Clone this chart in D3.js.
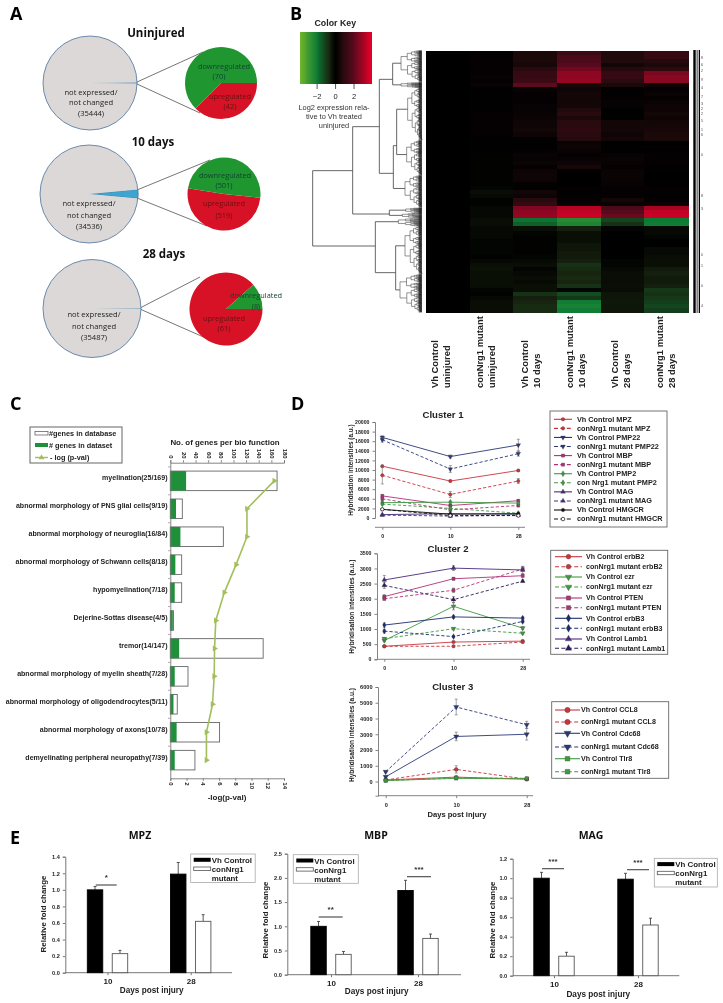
<!DOCTYPE html>
<html><head><meta charset="utf-8">
<script src="https://cdn.jsdelivr.net/npm/d3@7/dist/d3.min.js"></script>
<style>html,body{margin:0;padding:0;background:#fff}svg{display:block;filter:blur(0.35px)}</style>
</head><body><svg id="c" width="723" height="1003"></svg>
<script>
// ---------- DATA ----------
const pieTitles=["Uninjured","10 days","28 days"];
const notChanged=[35444,34536,35487];
const downReg=[70,501,8];
const upReg=[42,519,61];

const heatColumns=["Vh Control|uninjured","conNrg1 mutant|uninjured","Vh Control|10 days","conNrg1 mutant|10 days","Vh Control|28 days","conNrg1 mutant|28 days"];
const heatCol0=[0,0,0,0,0,0,0,0,0,0,0,0,0,0,0,0,0,0,0,0,0,0,0,0,0,0,0,0,0,0,0,0,0,0,0,0,0,0,0,0,0,0,0,0,0,0,0,0,0,0,0,0,0,0,0,0,0,0,0,0,0,0,0,0];
const heatCol1=[.1,.1,.1,.1,.1,.1,.15,.1,.15,.05,.05,.05,.05,.05,.05,.1,.1,.1,.1,.1,.1,.05,.05,.05,.05,-.05,-.05,-.05,-.05,-.05,-.05,-.05,-.05,-.1,-.25,-.2,-.05,-.05,-.15,-.15,-.15,-.25,-.25,-.15,-.2,-.15,-.1,-.1,-.1,-.1,-.05,-.15,-.3,-.35,-.3,-.3,-.3,-.25,-.1,-.05,-.2,-.25,-.25,-.25];
const heatCol2=[.6,.6,.6,.5,.9,1.2,1.2,1.3,2.0,.15,.1,.1,.1,.15,.15,.2,.25,.35,.35,.4,.3,.05,.05,.05,.1,.2,.15,.25,.1,.3,.35,.3,.1,.05,.4,.3,.9,1.1,2.5,2.7,2.8,-1.9,-1.6,-.3,-.1,-.05,-.05,-.05,-.05,-.05,-.1,-.2,-.25,-.1,-.2,-.25,-.2,-.3,-.3,-.9,-.6,-.7,-.8,-.8];
const heatCol3=[1.3,1.6,1.7,1.9,2.3,2.7,2.7,2.8,.5,.35,.4,.4,.4,.4,.7,.9,.6,.9,.9,1,.9,.8,.2,.3,.2,.1,.15,.3,.5,.05,0,0,0,.1,.05,.1,.1,.15,3.2,3.4,3.5,-2.5,-2.3,-.6,-.3,-.3,-.3,-.4,-.4,-.5,-.5,-.6,-.9,-.8,-.7,-.8,-.7,-.9,-.1,-1.3,-1.0,-2.1,-2.2,-2.1];
const heatCol4=[.7,.7,.7,.4,.8,1.2,1.2,.9,.6,.05,.05,.1,.15,.15,.05,.05,.05,.4,.4,.4,.35,.4,0,.05,.05,.15,.2,.15,.1,.2,.25,.2,.15,.1,.1,.1,.4,.2,1.6,1.9,2.2,-1.2,-.9,-.1,0,0,0,0,0,0,0,-.1,-.1,-.2,-.25,-.25,-.25,-.3,-.25,-.4,-.4,-.45,-.4,-.4];
const heatCol5=[1.2,1.2,.8,.6,1.0,2.4,2.6,2.6,.3,.1,.2,.1,.2,.3,.3,.4,.3,.4,.45,.5,.6,.6,0,.1,.05,.1,.1,.1,.05,.05,0,0,.05,.1,.1,.05,.1,.2,3.0,3.4,3.5,-2.0,-2.1,-.2,-.15,-.1,0,0,-.2,-.2,-.25,-.3,-.3,-.5,-.6,-.5,-.5,-.6,-1.0,-.9,-1,-1.1,-1.2,-1.1];
const heatRowDigits=["8","6","2","9","4","7","3","2","2","5","1","6","0","8","3","0","1","0","4"];
const heatKeyTicks=[-2,0,2];

const bioFunctions=["myelination(25/169)","abnormal morphology of PNS glial cells(9/19)","abnormal morphology of neuroglia(16/84)","abnormal morphology of Schwann cells(8/18)","hypomyelination(7/18)","Dejerine-Sottas disease(4/5)","tremor(14/147)","abnormal morphology of myelin sheath(7/28)","abnormal morphology of oligodendrocytes(5/11)","abnormal morphology of axons(10/78)","demyelinating peripheral neuropathy(7/39)"];
const genesInDataset=[25,9,16,8,7,4,14,7,5,10,7];
const genesInDatabase=[169,19,84,18,18,5,147,28,11,78,39];
const logP=[12.8,9.44,9.44,8.1,6.65,5.6,5.45,5.4,5.2,4.45,4.45];

const days=["0","10","28"];
const cluster1Names=["Vh Control MPZ","conNrg1 mutant MPZ","Vh Control PMP22","conNrg1 mutant PMP22","Vh Control MBP","conNrg1 mutant MBP","Vh Control PMP2","con Nrg1 mutant PMP2","Vh Control MAG","conNrg1 mutant MAG","Vh Control HMGCR","conNrg1 mutant HMGCR"];
const cluster1Values=[[10800,7700,9900],[8900,4900,7700],[16800,12800,15200],[16300,10200,13400],[4600,2600,3600],[4000,1700,2600],[3200,3300,3100],[2900,2000,1000],[700,900,800],[600,400,600],[1800,800,900],[1800,500,500]];
const cluster1Errors=[[200,200,200],[1800,600,500],[300,300,1200],[500,700,500],[300,200,200],[300,300,300],[200,200,200],[200,200,200],[100,100,100],[100,100,100],[100,100,100],[100,100,100]];
const cluster2Names=["Vh Control erbB2","conNrg1 mutant erbB2","Vh Control ezr","conNrg1 mutant ezr","Vh Control PTEN","conNrg1 mutant PTEN","Vh Control erbB3","conNrg1 mutant erbB3","Vh Control Lamb1","conNrg1 mutant Lamb1"];
const cluster2Values=[[430,570,600],[430,430,570],[620,1750,1030],[680,1010,860],[2070,2660,2760],[2000,2280,2980],[1130,1400,1360],[930,750,1250],[2620,3010,2950],[2440,1970,2580]];
const cluster2Errors=[[20,20,30],[20,20,30],[40,120,50],[40,30,30],[60,40,50],[50,70,80],[70,50,40],[60,30,30],[150,80,120],[100,100,40]];
const cluster3Names=["Vh Control CCL8","conNrg1 mutant CCL8","Vh Control Cdc68","conNrg1 mutant Cdc68","Vh Control Tlr8","conNrg1 mutant Tlr8"];
const cluster3Values=[[100,280,150],[100,770,150],[300,2860,3000],[620,4730,3600],[60,200,170],[60,230,200]];
const cluster3Errors=[[20,40,30],[30,230,30],[50,270,370],[50,500,220],[20,30,30],[20,30,30]];

const qpcrDays=["10","28"];
const qpcrGroups=["Vh Control","conNrg1 mutant"];
const mpzMeans=[[1.0,1.19],[0.23,0.62]], mpzErr=[[.04,.14],[.04,.08]];
const mbpMeans=[[1.0,1.74],[0.42,0.75]], mbpErr=[[.10,.21],[.06,.09]];
const magMeans=[[1.0,0.99],[0.20,0.52]], magErr=[[.06,.06],[.04,.07]];

// ---------- HELPERS ----------
const svg=d3.select("#c");
const ARIAL="'Liberation Sans',Arial,sans-serif", OPEN="'Open Sans',sans-serif";
function T(g,x,y,s,o={}){
  const t=g.append("text").attr("x",x).attr("y",y).text(s)
    .attr("font-family",o.f||ARIAL).attr("font-size",o.s||8).attr("font-weight",o.w||"normal")
    .attr("text-anchor",o.a||"start").attr("fill",o.c||"#111");
  if(o.r!==undefined)t.attr("transform",`rotate(${o.r} ${x} ${y})`);
  return t;
}
function L(g,x1,y1,x2,y2,c,w,d){const l=g.append("line").attr("x1",x1).attr("y1",y1).attr("x2",x2).attr("y2",y2).attr("stroke",c||"#555").attr("stroke-width",w||1);if(d)l.attr("stroke-dasharray",d);return l;}
function styleAxis(sel,o={}){
  sel.selectAll("path,line").attr("stroke",o.c||"#777").attr("stroke-width",o.sw||.9);
  sel.selectAll("text").attr("font-family",ARIAL).attr("font-weight","bold").attr("font-size",o.s||5.5).attr("fill","#222");
}
[["A",10,20],["B",290,20],["C",10,410],["D",291,410],["E",10,844]].forEach(d=>T(svg,d[1],d[2],d[0],{f:OPEN,s:18,w:700,c:"#000"}));

// ---------- PANEL A ----------
const GREEN="#1f962f",RED="#d81226";
const pieLayout=[
 {big:[90,83,47],small:[221,83,36],title:[156,37],txt:[91,[94.5,105,115.7]],l:[[203,52],[200,113]],dl:[[224,68.5],[219,79],[230,99],[230,109]],rot:0},
 {big:[89,194,49],small:[224,194,36.5],title:[153,146],txt:[89,[206,218,229]],l:[[210,160],[207,226]],dl:[[225,178],[224,188],[224,206],[224,218]],rot:6},
 {big:[92,308.5,49],small:[226,309,36.5],title:[164,258],txt:[94,[317,328.5,340]],l:[[200,277],[208,339]],dl:[[256,298],[256,309],[224,321],[224,331]],rot:0}];
const gA=svg.append("g");
pieLayout.forEach((p,i)=>{
  T(gA,p.title[0],p.title[1],pieTitles[i],{f:OPEN,s:11.5,w:700,a:"middle",c:"#111"});
  const [bx,by,br]=p.big,[sx,sy,sr]=p.small;
  const changed=downReg[i]+upReg[i];
  const frac=changed/(changed+notChanged[i]);
  const half=frac*Math.PI;
  const bigPie=d3.pie().sort(null).startAngle(Math.PI/2-half).endAngle(Math.PI/2-half+2*Math.PI)([changed,notChanged[i]]);
  const arcB=d3.arc().innerRadius(0).outerRadius(br);
  const gb=gA.append("g").attr("transform",`translate(${bx},${by})`);
  gb.selectAll("path").data(bigPie).join("path").attr("d",arcB)
    .attr("fill",(d,j)=>j?"#dcd8d8":"#3fa5d0").attr("stroke",(d,j)=>j?"none":"#3a7fa8").attr("stroke-width",.7);
  gb.append("circle").attr("r",br).attr("fill","none").attr("stroke","#5f7fa3").attr("stroke-width",.9);
  const ex=bx+br, dy=Math.max(br*Math.sin(half),1);
  L(gA,ex,by-dy,p.l[0][0],p.l[0][1],"#666",.9);
  L(gA,ex,by+dy,p.l[1][0],p.l[1][1],"#666",.9);
  const start=Math.PI/2+p.rot*Math.PI/180;
  const smallPie=d3.pie().sort(null).startAngle(start).endAngle(start+2*Math.PI)([upReg[i],downReg[i]]);
  gA.append("g").attr("transform",`translate(${sx},${sy})`).selectAll("path").data(smallPie).join("path")
    .attr("d",d3.arc().innerRadius(0).outerRadius(sr)).attr("fill",(d,j)=>j?GREEN:RED);
  const o={f:OPEN,s:7.4,a:"middle",c:"#222"};
  T(gA,p.txt[0],p.txt[1][0],"not expressed/",{...o,s:7.6});
  T(gA,p.txt[0],p.txt[1][1],"not changed",{...o,s:7.6});
  T(gA,p.txt[0],p.txt[1][2],`(${notChanged[i]})`,{...o,s:7.6});
  T(gA,p.dl[0][0],p.dl[0][1],"downregulated",{...o,c:"#143"});
  T(gA,p.dl[1][0],p.dl[1][1],`(${downReg[i]})`,{...o,c:"#143"});
  T(gA,p.dl[2][0],p.dl[2][1],"upregulated",{...o,c:"#611"});
  T(gA,p.dl[3][0],p.dl[3][1],`(${upReg[i]})`,{...o,c:"#611"});
});

// ---------- PANEL B ----------
const gB=svg.append("g");
const heatColor=d3.scaleLinear().domain([-3.8,-2,-.7,0,.7,2,3.9]).range(["#6db52a","#0c7a35","#18240f","#000000","#200a0c","#5c0a1e","#e60028"]);
const heatData=[heatCol0,heatCol1,heatCol2,heatCol3,heatCol4,heatCol5];
const hx=d3.scaleBand().domain(d3.range(6)).range([426,688]);
const hy=d3.scaleBand().domain(d3.range(heatCol0.length)).range([50.7,312.3]);
heatData.forEach((col,c)=>{
  gB.append("g").selectAll("rect").data(col).join("rect")
   .attr("x",hx(c)).attr("width",hx.bandwidth()+.5)
   .attr("y",(d,i)=>hy(i)).attr("height",hy.bandwidth()+.3)
   .attr("fill",d=>heatColor(d)).attr("shape-rendering","crispEdges");
});
heatColumns.forEach((s,i)=>{
  const [a,b]=s.split("|");
  T(gB,438.3+i*45,388,a,{s:9.4,w:"bold",r:-90,c:"#222"});
  T(gB,449.8+i*45,388,b,{s:9.4,w:"bold",r:-90,c:"#222"});
});
// colour key
const keyX=d3.scaleLinear().domain([-3.8,4]).range([300,372]);
gB.append("g").selectAll("rect").data(d3.range(-3.8,4,0.1)).join("rect")
  .attr("x",d=>keyX(d)).attr("width",1.3).attr("y",32).attr("height",52).attr("fill",d=>heatColor(d)).attr("shape-rendering","crispEdges");
const keyAx=gB.append("g").attr("transform","translate(0,84)").call(d3.axisBottom(keyX).tickValues(heatKeyTicks).tickSize(5).tickFormat(d=>d<0?"\u2212"+(-d):d));
keyAx.select(".domain").remove();styleAxis(keyAx,{s:7.5,c:"#444"});
keyAx.selectAll("text").attr("font-weight","normal").attr("dy","0.9em");
T(gB,335.3,26,"Color Key",{s:8.8,w:"bold",a:"middle",c:"#222"});
["Log2 expression rela-","tive to Vh treated","uninjured"].forEach((s,i)=>T(gB,334,110+i*9.2,s,{s:7.4,a:"middle",c:"#333"}));
// dendrogram
const dx=z=>285+z/3, dy=z=>z/3;
const dendro=gB.append("g").attr("stroke","#3a3a3a").attr("stroke-width",.55).attr("fill","none");
const leafEnd=410;
function tuft(xs,y1,y2,flip){
  const span=y2-y1;
  if(span<2.2){dendro.append("path").attr("d",`M${dx(xs)},${dy((y1+y2)/2)}H${dx(leafEnd)}`);return (y1+y2)/2;}
  const ratio=flip?0.36:0.6, ym=y1+span*ratio;
  const nx=xs+(leafEnd-xs)*0.3;
  const a=tuft(nx,y1,ym,!flip), b=tuft(nx+(flip?3:-1)*0.3,ym,y2,flip);
  dendro.append("path").attr("d",`M${dx(nx)},${dy(a)}H${dx(xs)}V${dy(b)}H${dx(nx)}`);
  return (a+b)/2;
}
const dendroTree={x:83,c:[
 {x:203,y:512,c:[
  {x:283,y:380,c:[
   {x:323,y:238,c:[{t:[348,152,245]},{t:[348,248,264]}]},
   {x:325,y:520,c:[
     {x:335,y:437,c:[{t:[368,265,420]},{t:[365,422,525]}]},
     {t:[360,527,622]}]}]},
  {x:313,y:642,c:[{t:[362,624,640]},{t:[352,640,655]}]}]},
 {x:271,y:738,c:[
  {t:[340,655,680]},
  {x:332,y:818,c:[{t:[360,680,822]},{t:[345,824,937]}]}]}]};
function drawNode(n){
  if(n.t){return {x:n.t[0],y:tuft(n.t[0],n.t[1],n.t[2],true)};}
  const a=drawNode(n.c[0]),b=drawNode(n.c[1]);
  const y=n.y!==undefined?n.y:(a.y+b.y)/2;
  dendro.append("path").attr("d",`M${dx(a.x)},${dy(a.y)}H${dx(n.x)}V${dy(b.y)}H${dx(b.x)}`).attr("stroke","#555").attr("stroke-width",.9);
  return {x:n.x,y};
}
drawNode(dendroTree);
gB.append("rect").attr("x",dx(401)).attr("y",50.5).attr("width",dx(411)-dx(401)).attr("height",262).attr("fill","#000").attr("opacity",.55);
// right stripes + tiny labels
[[693.3,2.4],[696.7,.8],[698.7,1.3]].forEach(d=>gB.append("rect").attr("x",d[0]).attr("width",d[1]).attr("y",50).attr("height",263).attr("fill","#000"));
const digitY=[175,196,214,241,265,290,311,327,342,363,389,406,464,587,628,765,797,857,917];
heatRowDigits.forEach((d,i)=>T(gB,701,digitY[i]/3+1,d,{s:3.5,c:"#444"}));

// ---------- PANEL C ----------
const gC=svg.append("g");
const cxBar=d3.scaleLinear().domain([0,180]).range([170.3,284]);
const cxP=d3.scaleLinear().domain([0,14]).range([170.3,284]);
const cy=d3.scaleBand().domain(bioFunctions).range([462.7,778.3]).padding(.3);
const cC=d=>cy(d)+cy.bandwidth()/2;
gC.append("g").selectAll("rect").data(bioFunctions).join("rect")
  .attr("x",cxBar(0)).attr("y",d=>cy(d)).attr("height",cy.bandwidth())
  .attr("width",(d,i)=>cxBar(genesInDatabase[i])-cxBar(0)).attr("fill","#fff").attr("stroke","#666").attr("stroke-width",.9);
gC.append("g").selectAll("rect").data(bioFunctions).join("rect")
  .attr("x",cxBar(0)).attr("y",d=>cy(d)).attr("height",cy.bandwidth())
  .attr("width",(d,i)=>cxBar(genesInDataset[i])-cxBar(0)).attr("fill","#1f8f3a");
const lc="#a3bf5c";
gC.append("path").attr("fill","none").attr("stroke",lc).attr("stroke-width",1.6)
  .attr("d",d3.line().x((d,i)=>cxP(logP[i])).y(d=>cC(d))(bioFunctions));
const triRight=d3.symbol().type(d3.symbolTriangle).size(16)();
gC.append("g").selectAll("path").data(bioFunctions).join("path").attr("d",triRight).attr("fill",lc)
  .attr("transform",(d,i)=>`translate(${cxP(logP[i])},${cC(d)}) rotate(90)`);
bioFunctions.forEach(d=>T(gC,167.5,cC(d)-.5,d,{s:7.05,w:"bold",a:"end",c:"#222"}));
const cTop=gC.append("g").attr("transform","translate(0,462.7)").call(d3.axisTop(cxBar).tickValues(d3.range(0,181,20)).tickSize(2.5).tickFormat(d3.format("d")));
styleAxis(cTop,{s:6});
cTop.selectAll("text").attr("transform","rotate(90)").attr("text-anchor","end").attr("x",-4).attr("y",0).attr("dy","0.32em");
const cBot=gC.append("g").attr("transform","translate(0,778.3)").call(d3.axisBottom(cxP).tickValues(d3.range(0,15,2)).tickSize(2.5).tickFormat(d3.format("d")));
styleAxis(cBot,{s:6});
cBot.selectAll("text").attr("transform","rotate(90)").attr("text-anchor","start").attr("x",4).attr("y",0).attr("dy","0.32em");
const cLeft=gC.append("g").attr("transform","translate(170.3,0)").call(d3.axisLeft(cy).tickValues([]).tickSize(0));
styleAxis(cLeft);
gC.append("g").selectAll("line").data(bioFunctions).join("line").attr("x1",168).attr("x2",170.3).attr("y1",d=>cy(d)-cy.step()*.15).attr("y2",d=>cy(d)-cy.step()*.15).attr("stroke","#888").attr("stroke-width",.7);
T(gC,225,445,"No. of genes per bio function",{s:7.9,w:"bold",a:"middle",c:"#222"});
T(gC,227,800,"-log(p-val)",{s:8,w:"bold",a:"middle",c:"#222"});
gC.append("rect").attr("x",30).attr("y",427).attr("width",92).attr("height",36).attr("fill","#fff").attr("stroke","#555").attr("stroke-width",.9);
gC.append("rect").attr("x",35).attr("y",431.5).attr("width",13).attr("height",3.5).attr("fill","#fff").attr("stroke","#666").attr("stroke-width",.8);
gC.append("rect").attr("x",35).attr("y",443).attr("width",13).attr("height",4).attr("fill","#1f8f3a");
L(gC,35,457.5,48,457.5,lc,1.4);
gC.append("path").attr("d",d3.symbol().type(d3.symbolTriangle).size(14)()).attr("fill",lc).attr("transform","translate(41.5,457.5)");
T(gC,49,436,"#genes in database",{s:7.3,w:"bold",c:"#222"});
T(gC,49,448,"# genes in dataset",{s:7.3,w:"bold",c:"#222"});
T(gC,50,460,"- log (p-val)",{s:7.3,w:"bold",c:"#222"});

// ---------- PANEL D ----------
const markers={circle:[d3.symbolCircle,0],down:[d3.symbolTriangle,180],square:[d3.symbolSquare,0],diamond:[d3.symbolDiamond,0],up:[d3.symbolTriangle,0]};
const cR="#c9353c",cN="#2a3878",cM="#b23079",cG="#3f9a3f",cP="#4a2a80",cK="#111111",cD="#1c2c6c";
const styles1=[[cR,"circle"],[cR,"circle"],[cN,"down"],[cN,"down"],[cM,"square"],[cM,"square"],[cG,"diamond"],[cG,"diamond"],[cP,"up"],[cP,"up"],[cK,"circle"],[cK,"circle",1]];
const styles2=[[cR,"circle"],[cR,"circle"],[cG,"down"],[cG,"down"],[cM,"square"],[cM,"square"],[cD,"diamond"],[cD,"diamond"],[cP,"up"],["#2c1a60","up"]];
const styles3=[[cR,"circle"],[cR,"circle"],[cN,"down"],[cN,"down"],[cG,"square"],[cG,"square"]];
function mark(g,x,y,st,size){
  const [sym,rot]=markers[st[1]];
  g.append("path").attr("d",d3.symbol().type(sym).size(size)()).attr("transform",`translate(${x},${y}) rotate(${rot})`)
   .attr("fill",st[2]?"#fff":st[0]).attr("stroke",st[2]?"#111":"#333").attr("stroke-width",st[2]?.7:.3);
}
function cluster(cfg){
  const g=svg.append("g");
  const x=d3.scalePoint().domain(days).range(cfg.xr);
  const y=d3.scaleLinear().domain(cfg.yd).range(cfg.yr);
  const ax=g.append("g").attr("transform",`translate(${cfg.ax},0)`).call(d3.axisLeft(y).tickValues(cfg.ticks).tickSize(2.5).tickFormat(d3.format("d")));
  styleAxis(ax,{s:cfg.tick||5.2});
  const bx=g.append("g").attr("transform",`translate(0,${cfg.bot})`).call(d3.axisBottom(x).tickSize(2.5));
  bx.select(".domain").attr("d",`M${cfg.ax},0H${cfg.xend}`);
  styleAxis(bx,{s:cfg.tick||5.2});
  bx.selectAll("text").attr("dy",cfg.tickDy||"1em");
  const line=d3.line().x((d,i)=>x(days[i])).y(d=>y(d));
  cfg.values.forEach((v,s)=>{
    const st=cfg.styles[s];
    v.forEach((d,i)=>{
      const px=x(days[i]),e=cfg.errors[s][i];
      L(g,px,y(d-e),px,y(d+e),"#666",.6);
      L(g,px-1.5,y(d+e),px+1.5,y(d+e),"#666",.6);
      L(g,px-1.5,y(d-e),px+1.5,y(d-e),"#666",.6);
    });
    const p=g.append("path").attr("d",line(v)).attr("fill","none").attr("stroke",st[0]).attr("stroke-width",.9);
    if(s%2)p.attr("stroke-dasharray","3.2,2");
    v.forEach((d,i)=>mark(g,x(days[i]),y(d),st,cfg.ms||9));
  });
  T(g,cfg.title[0],cfg.title[1],cfg.name,{s:cfg.ts||9.6,w:"bold",a:"middle",c:"#222"});
  T(g,cfg.yl[0],cfg.yl[1],"Hybridisation intensities (a.u.)",{s:cfg.yls||6.4,w:"bold",a:"middle",r:-90,c:"#222"});
  const b=cfg.box;
  g.append("rect").attr("x",b[0]).attr("y",b[1]).attr("width",b[2]).attr("height",b[3]).attr("fill","#fff").attr("stroke","#666").attr("stroke-width",.9);
  cfg.names.forEach((n,i)=>{
    const ly=cfg.rows[i],st=cfg.styles[i];
    const l=L(g,cfg.lx[0],ly,cfg.lx[1],ly,st[0],1.1);
    if(i%2)l.attr("stroke-dasharray","4,2.4");
    mark(g,(cfg.lx[0]+cfg.lx[1])/2,ly,st,cfg.lms||10);
    T(g,cfg.tx,ly+2.3,n,{s:cfg.ls||7.2,w:"bold",c:"#222"});
  });
}
cluster({name:"Cluster 1",values:cluster1Values,errors:cluster1Errors,styles:styles1,names:cluster1Names,
  xr:[382.3,518.3],yd:[0,20000],yr:[518,422],ax:375,bot:527.3,xend:525,ticks:d3.range(0,20001,2000),
  title:[443,417.5],yl:[352.5,470],box:[550,411,117,116],rows:d3.range(12).map(i=>419.3+i*9.07),lx:[554,572],tx:577,ls:7.3});
cluster({name:"Cluster 2",values:cluster2Values,errors:cluster2Errors,styles:styles2,names:cluster2Names,
  xr:[384.3,522.7],yd:[0,3500],yr:[659.3,553.3],ax:377,bot:659.3,xend:530,ticks:d3.range(0,3501,500),
  title:[448,551.5],yl:[354,606.7],yls:6.6,box:[550.7,550.3,117,104],rows:[556.7,566.7,577,587,598,607.7,618.3,628.3,639,648.3],lx:[555,582],tx:586,ls:7.1,ms:10,lms:18});
cluster({name:"Cluster 3",values:cluster3Values,errors:cluster3Errors,styles:styles3,names:cluster3Names,
  xr:[385.7,526.7],yd:[-900,6000],yr:[795.7,687],ax:378,bot:795.7,xend:533,ticks:d3.range(0,6001,1000),
  title:[452.7,690],yl:[354,735],yls:6.6,box:[551.7,701.7,117,76.6],rows:[710,722,733.3,747,758.7,771.7],lx:[555,580],tx:581,ls:7.1,ms:12,lms:22,tick:5.6,tickDy:"1.1em"});
T(svg,457,817,"Days post injury",{s:7.6,w:"bold",a:"middle",c:"#222"});

// ---------- PANEL E ----------
function qpcr(cfg){
  const g=svg.append("g");
  const x=d3.scalePoint().domain(qpcrDays).range(cfg.cx);
  const inner=d3.scaleBand().domain(qpcrGroups).range([-cfg.hw,cfg.hw]).paddingInner(.38);
  const y=d3.scaleLinear().domain(cfg.yd).range(cfg.yr);
  const ax=g.append("g").attr("transform",`translate(${cfg.ax},0)`).call(d3.axisLeft(y).tickValues(cfg.ticks).tickSize(2.5).tickFormat(d3.format(".1f")));
  styleAxis(ax,{s:5.6,sw:1});
  const bx=g.append("g").attr("transform",`translate(0,${cfg.yr[0]})`).call(d3.axisBottom(x).tickSize(2.5));
  bx.select(".domain").attr("d",`M${cfg.ax},0H${cfg.xend}`);
  styleAxis(bx,{s:8,sw:1});
  qpcrGroups.forEach((grp,gi)=>{
    cfg.means[gi].forEach((v,di)=>{
      const bxx=x(qpcrDays[di])+inner(grp),c=bxx+inner.bandwidth()/2,e=cfg.errs[gi][di];
      L(g,c,y(v),c,y(v+e),"#444",.9);
      L(g,c-1.5,y(v+e),c+1.5,y(v+e),"#444",.9);
      g.append("rect").attr("x",bxx).attr("y",y(v)).attr("width",inner.bandwidth()).attr("height",y(0)-y(v))
        .attr("fill",gi?"#fff":"#000").attr("stroke",gi?"#555":"#000").attr("stroke-width",.9);
    });
  });
  T(g,cfg.tc,839,cfg.name,{f:OPEN,s:10.5,w:700,a:"middle",c:"#111"});
  T(g,cfg.yl[0],cfg.yl[1],"Relative fold change",{s:7.9,w:"bold",a:"middle",r:-90,c:"#222"});
  T(g,cfg.xl[0],cfg.xl[1],"Days post injury",{s:8.2,w:"bold",a:"middle",c:"#222"});
  cfg.sig.forEach(s=>{L(g,s[0],s[2],s[1],s[2],"#444",1.1);T(g,(s[0]+s[1])/2,s[2]-5,s[3],{s:8,w:"bold",a:"middle",c:"#333"});});
  const b=cfg.box;
  g.append("rect").attr("x",b[0]).attr("y",b[1]).attr("width",b[2]).attr("height",b[3]).attr("fill","#fff").attr("stroke","#aaa").attr("stroke-width",.8);
  g.append("rect").attr("x",b[0]+3).attr("y",b[1]+3.8).attr("width",17).attr("height",4).attr("fill","#000");
  g.append("rect").attr("x",b[0]+3).attr("y",b[1]+13).attr("width",17).attr("height",3.4).attr("fill","#fff").attr("stroke","#555").attr("stroke-width",.8);
  T(g,b[0]+21,b[1]+9,"Vh Control",{s:7.9,w:"bold",c:"#222"});
  T(g,b[0]+21,b[1]+18,"conNrg1",{s:7.9,w:"bold",c:"#222"});
  T(g,b[0]+21,b[1]+27,"mutant",{s:7.9,w:"bold",c:"#222"});
}
qpcr({name:"MPZ",means:mpzMeans,errs:mpzErr,cx:[107.5,190.7],hw:20.2,yd:[0,1.4],yr:[972.7,856.7],ax:65.3,xend:232,ticks:d3.range(0,1.41,.2),
  tc:140,yl:[46,914],xl:[151.7,993],box:[190.7,854,64.5,28.5],sig:[[95.7,116.7,885,"*"]]});
qpcr({name:"MBP",means:mbpMeans,errs:mbpErr,cx:[331,418],hw:20.2,yd:[0,2.5],yr:[974.7,853.7],ax:287.3,xend:461,ticks:d3.range(0,2.51,.5),
  tc:376,yl:[268,920],xl:[376.7,994],box:[293.3,854.7,65,28.6],sig:[[318.7,342.7,917,"**"],[407,431,876.7,"***"]]});
qpcr({name:"MAG",means:magMeans,errs:magErr,cx:[554,638],hw:20.2,yd:[0,1.2],yr:[975.7,858.7],ax:512.7,xend:679.3,ticks:d3.range(0,1.21,.2),
  tc:591,yl:[495,920],xl:[598.3,997],box:[654.3,858.3,63,28.7],sig:[[542,564,868.7,"***"],[627,649,869.7,"***"]]});
</script></body></html>
